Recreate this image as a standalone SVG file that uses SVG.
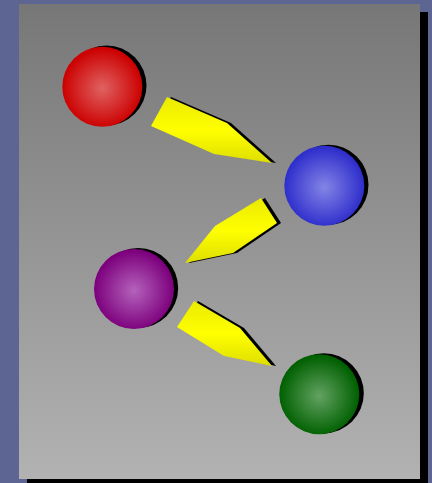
<svg xmlns="http://www.w3.org/2000/svg" width="432" height="483" viewBox="0 0 432 483">
  <defs>
    <linearGradient id="panelGrad" x1="0" y1="0" x2="0" y2="1">
      <stop offset="0" stop-color="#777777"/>
      <stop offset="1" stop-color="#b2b2b2"/>
    </linearGradient>
    <linearGradient id="yellowGrad" x1="0" y1="0" x2="0" y2="1">
      <stop offset="0" stop-color="#eaea00"/>
      <stop offset="0.5" stop-color="#ffff00"/>
      <stop offset="1" stop-color="#dede00"/>
    </linearGradient>
    <radialGradient id="redGrad" cx="0.5" cy="0.52" r="0.5">
      <stop offset="0" stop-color="#e06262"/>
      <stop offset="1" stop-color="#cc0000"/>
    </radialGradient>
    <radialGradient id="blueGrad" cx="0.5" cy="0.52" r="0.5">
      <stop offset="0" stop-color="#8484e6"/>
      <stop offset="1" stop-color="#2e2ecc"/>
    </radialGradient>
    <radialGradient id="purpleGrad" cx="0.5" cy="0.52" r="0.5">
      <stop offset="0" stop-color="#b462bc"/>
      <stop offset="1" stop-color="#7c007c"/>
    </radialGradient>
    <radialGradient id="greenGrad" cx="0.5" cy="0.52" r="0.5">
      <stop offset="0" stop-color="#62a262"/>
      <stop offset="1" stop-color="#006000"/>
    </radialGradient>
  </defs>
  <style>
    .shadow { fill: #000000; }
    .arrow { fill: url(#yellowGrad); }
  </style>
  <rect x="0" y="0" width="432" height="483" fill="#5d6593"/>
  <rect x="27" y="12" width="401" height="475" fill="#000000"/>
  <rect x="19" y="4" width="401" height="475" fill="url(#panelGrad)"/>

  <g id="connectors">
    <g id="arrow-red-blue">
      <polygon class="shadow" transform="translate(4,0)" points="167,97 227,123 272,163 214,154 151,126"/>
      <polygon class="arrow" points="167,97 227,123 272,163 214,154 151,126"/>
    </g>
    <g id="arrow-blue-purple">
      <polygon class="shadow" transform="translate(4,0)" points="261,198 277,223 233,253 185,263 215,226"/>
      <polygon class="arrow" points="261,198 277,223 233,253 185,263 215,226"/>
    </g>
    <g id="arrow-purple-green">
      <polygon class="shadow" transform="translate(4,0)" points="194,301 240,328 272,366 224,356 177,327"/>
      <polygon class="arrow" points="194,301 240,328 272,366 224,356 177,327"/>
    </g>
  </g>

  <g id="node-red">
    <circle class="shadow" cx="106.5" cy="85.5" r="40"/>
    <circle cx="102.3" cy="86.7" r="40" fill="url(#redGrad)"/>
  </g>
  <g id="node-blue">
    <circle class="shadow" cx="328.5" cy="184.8" r="40"/>
    <circle cx="324.3" cy="185.8" r="40" fill="url(#blueGrad)"/>
  </g>
  <g id="node-purple">
    <circle class="shadow" cx="138.2" cy="288" r="40"/>
    <circle cx="134" cy="289" r="40" fill="url(#purpleGrad)"/>
  </g>
  <g id="node-green">
    <circle class="shadow" cx="323.8" cy="393.3" r="40"/>
    <circle cx="319.3" cy="394.3" r="40" fill="url(#greenGrad)"/>
  </g>
</svg>
